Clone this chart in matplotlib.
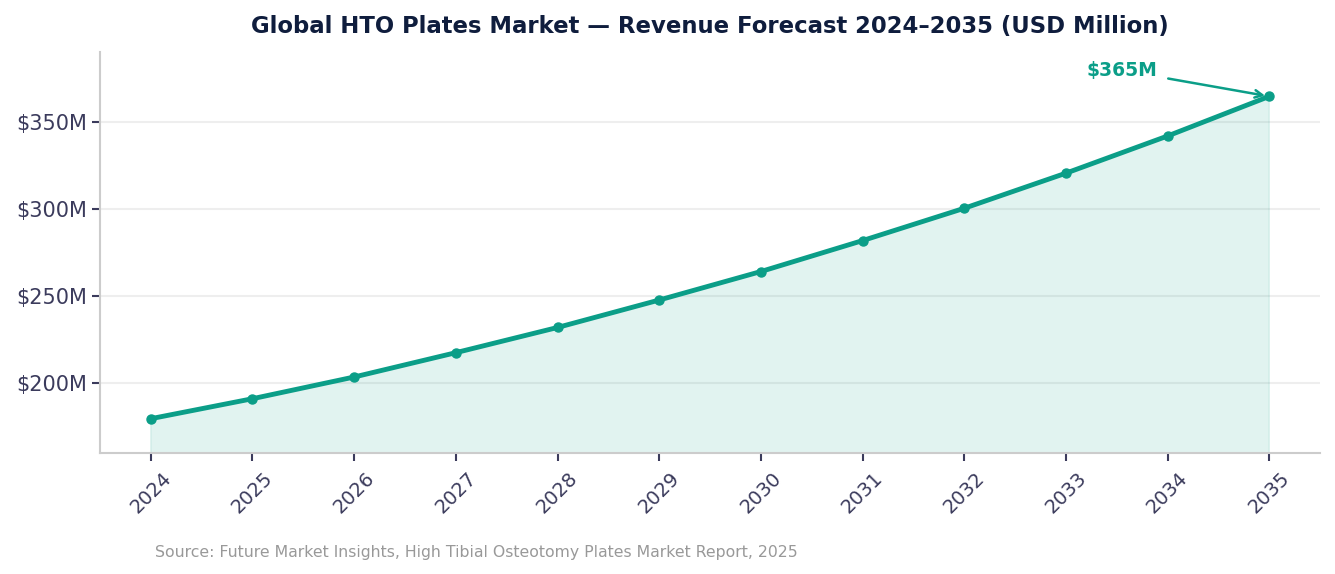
import matplotlib.pyplot as plt
from matplotlib.ticker import FuncFormatter

years = [2024, 2025, 2026, 2027, 2028, 2029, 2030, 2031, 2032, 2033, 2034, 2035]
revenue = [179.5, 191.0, 203.5, 217.5, 232.0, 247.8, 264.2, 282.0, 300.6, 320.8, 342.2, 365.0]
title = 'Global HTO Plates Market \u2014 Revenue Forecast 2024\u20132035 (USD Million)'
source = 'Source: Future Market Insights, High Tibial Osteotomy Plates Market Report, 2025'

teal = '#0b9e88'
navy = '#0f1d3d'
tick_col = '#3b3b5c'

fig = plt.figure(figsize=(13.35, 5.74), dpi=100)
ax = fig.add_axes([0.0749, 0.2108, 0.9139, 0.6986])

ax.fill_between(years, revenue, 0, color=teal, alpha=0.12, linewidth=1)
ax.plot(years, revenue, color=teal, linewidth=3.5, marker='o', markersize=6.5, zorder=3)

ax.set_xlim(2023.5, 2035.5)
ax.set_ylim(min(revenue) * 0.89, max(revenue) * 1.07)
ax.set_xticks(years)
ax.set_xticklabels([str(y) for y in years], rotation=45)
ax.set_yticks([200, 250, 300, 350])
ax.yaxis.set_major_formatter(FuncFormatter(lambda v, p: f'${v:.0f}M'))

ax.tick_params(axis='x', labelsize=14, colors=tick_col, length=6, width=1.5, pad=5)
ax.tick_params(axis='y', labelsize=15, colors=tick_col, length=6, width=1.5)
ax.grid(axis='y', color='#eeeeee', linewidth=1.5)
ax.set_axisbelow(True)
for s in ['top', 'right']:
    ax.spines[s].set_visible(False)
for s in ['left', 'bottom']:
    ax.spines[s].set_color('#cccccc')
    ax.spines[s].set_linewidth(1.5)

ax.set_title(title, fontsize=16.4, fontweight='bold', color=navy, pad=14)

ax.annotate(f'${revenue[-1]:.0f}M', xy=(years[-1], revenue[-1]), xytext=(2033.55, 380),
            fontsize=13.5, fontweight='bold', color=teal, ha='center', va='center',
            arrowprops=dict(arrowstyle='->', color=teal, lw=1.8, shrinkA=6, shrinkB=3))

fig.text(0.116, 0.03, source, fontsize=11.3, color='#999999')

fig.savefig('out.png', dpi=100)
